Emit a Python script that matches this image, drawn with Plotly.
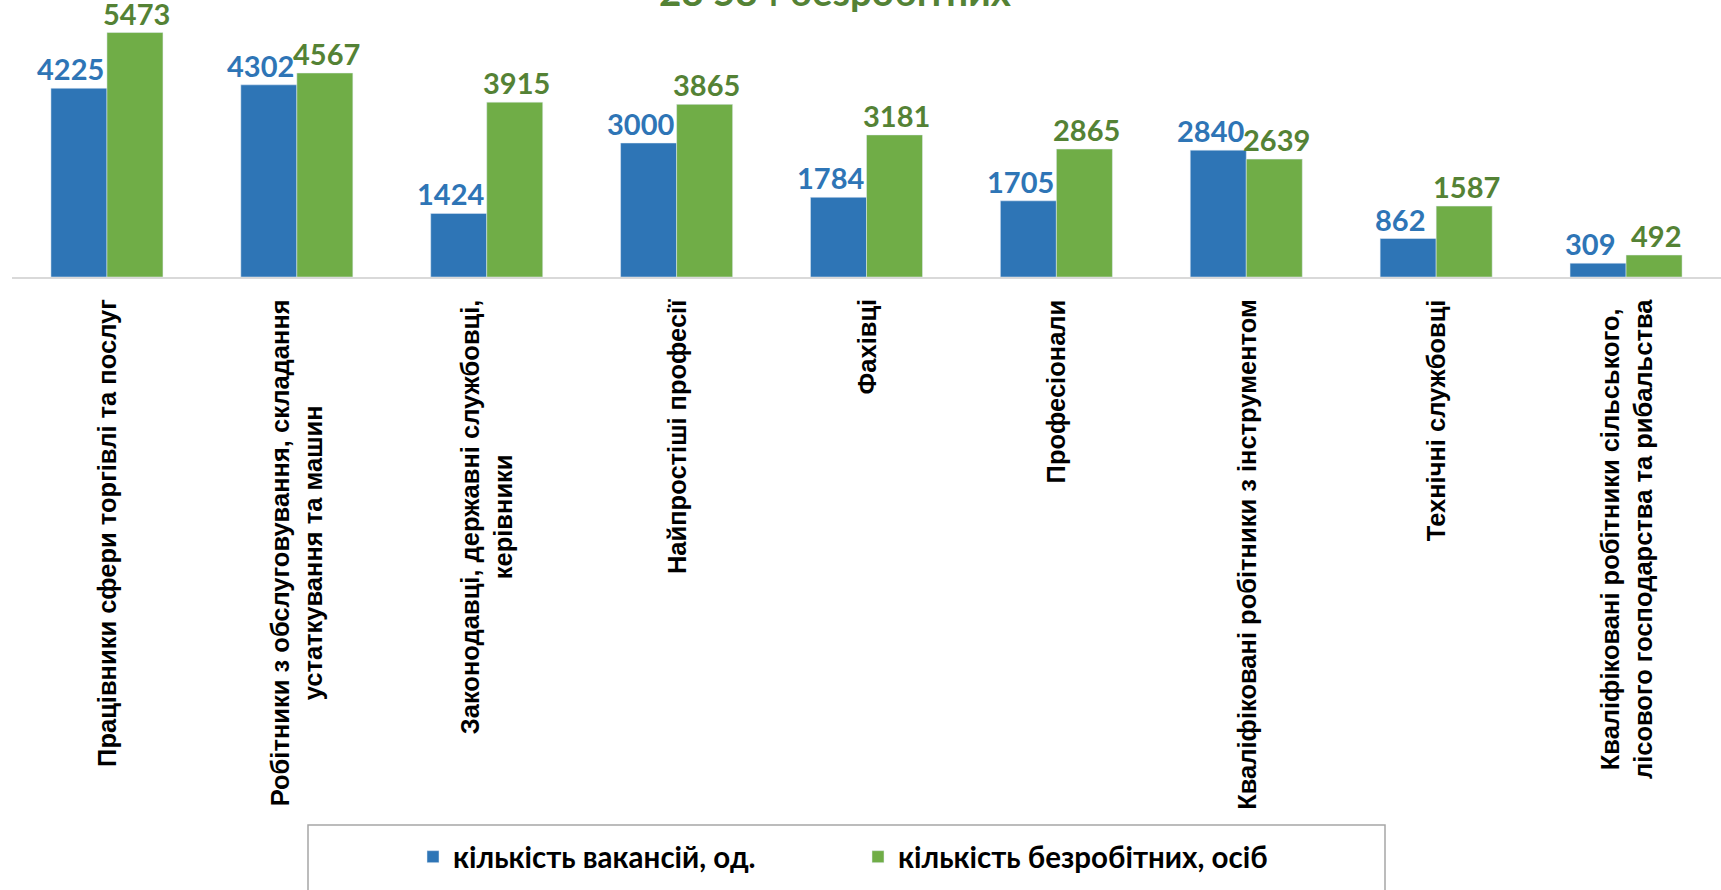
import plotly.graph_objects as go

categories = [
    "Працівники сфери торгівлі та послуг",
    "Робітники з обслуговування, складання<br>устаткування та машин",
    "Законодавці, державні службовці,<br>керівники",
    "Найпростіші професії",
    "Фахівці",
    "Професіонали",
    "Кваліфіковані робітники з інструментом",
    "Технічні службовці",
    "Кваліфіковані робітники сільського,<br>лісового господарства та рибальства",
]
vacancies = [4225, 4302, 1424, 3000, 1784, 1705, 2840, 862, 309]
unemployed = [5473, 4567, 3915, 3865, 3181, 2865, 2639, 1587, 492]
series_names = ["кількість вакансій, од.", "кількість безробітних, осіб"]
title_text = "28 584 безробітних"

BLUE = "#2E75B6"
GREEN = "#70AD47"
BLUE_TXT = "#2E75B6"
GREEN_TXT = "#548235"

W, H = 1721, 890
ML, MR, MT, MB = 12, 0, 9, 613
pw = W - ML - MR
ph = H - MT - MB
BARGAP = 0.41
BAR_W = (1 - BARGAP) / 2  # width of one bar in category units


def px_to_paper_x(X):
    return (X - ML) / pw


def px_to_paper_y(Y):
    return (H - MB - Y) / ph


xs = list(range(len(categories)))

fig = go.Figure()
fig.add_trace(go.Bar(x=xs, y=vacancies, name=series_names[0], marker_color=BLUE))
fig.add_trace(go.Bar(x=xs, y=unemployed, name=series_names[1], marker_color=GREEN))

annotations = []
# data labels (Excel nudges the pair apart slightly)
for i, v in enumerate(vacancies):
    annotations.append(dict(
        x=i - BAR_W / 2, xref="x", y=v, yref="y", yanchor="bottom", xshift=-8,
        text="<b>%d</b>" % v, showarrow=False,
        font=dict(family="Lato", size=29, color=BLUE_TXT),
    ))
for i, v in enumerate(unemployed):
    annotations.append(dict(
        x=i + BAR_W / 2, xref="x", y=v, yref="y", yanchor="bottom", xshift=2,
        text="<b>%d</b>" % v, showarrow=False,
        font=dict(family="Lato", size=29, color=GREEN_TXT),
    ))
# category labels
for i, c in enumerate(categories):
    annotations.append(dict(
        x=i, xref="x", y=0, yref="paper", yanchor="top", yshift=-20,
        text="<b>" + c + "</b>", textangle=-90, showarrow=False, align="center",
        font=dict(family="Liberation Sans Narrow, Liberation Sans, Arial", size=25.5, color="#000000"),
    ))
# title (cut off at the top in the original)
annotations.append(dict(
    x=px_to_paper_x(834.5), xref="paper", y=1, yref="paper", yanchor="bottom", yshift=-7,
    text="<b>" + title_text + "</b>", showarrow=False,
    font=dict(family="Lato", size=38.5, color=GREEN_TXT),
))

shapes = [dict(
    type="rect", xref="paper", yref="paper",
    x0=px_to_paper_x(308), x1=px_to_paper_x(1385),
    y0=px_to_paper_y(825), y1=px_to_paper_y(905),
    line=dict(color="#A6A6A6", width=1.5), fillcolor="rgba(0,0,0,0)",
)]

fig.update_layout(
    width=W, height=H,
    margin=dict(l=ML, r=MR, t=MT, b=MB),
    paper_bgcolor="white", plot_bgcolor="white",
    barmode="group", bargap=BARGAP, bargroupgap=0,
    showlegend=True,
    legend=dict(
        orientation="h", xref="paper", yref="container",
        x=px_to_paper_x(413), xanchor="left", y=1 - 857 / H, yanchor="middle",
        entrywidth=400, entrywidthmode="pixels",
        font=dict(family="Lato", size=29.5, color="#000000", weight="bold"),
        bgcolor="rgba(0,0,0,0)", borderwidth=0,
    ),
    xaxis=dict(
        range=[-0.5, len(categories) - 0.5], showticklabels=False, showgrid=False,
        zeroline=False, showline=True, linecolor="#D9D9D9", linewidth=2, ticks="",
    ),
    yaxis=dict(range=[0, 6000], visible=False, showgrid=False, zeroline=False),
    annotations=annotations, shapes=shapes,
)

fig.write_html("out.html", config={"displayModeBar": False},
               post_script="document.body.style.margin='0px';")
